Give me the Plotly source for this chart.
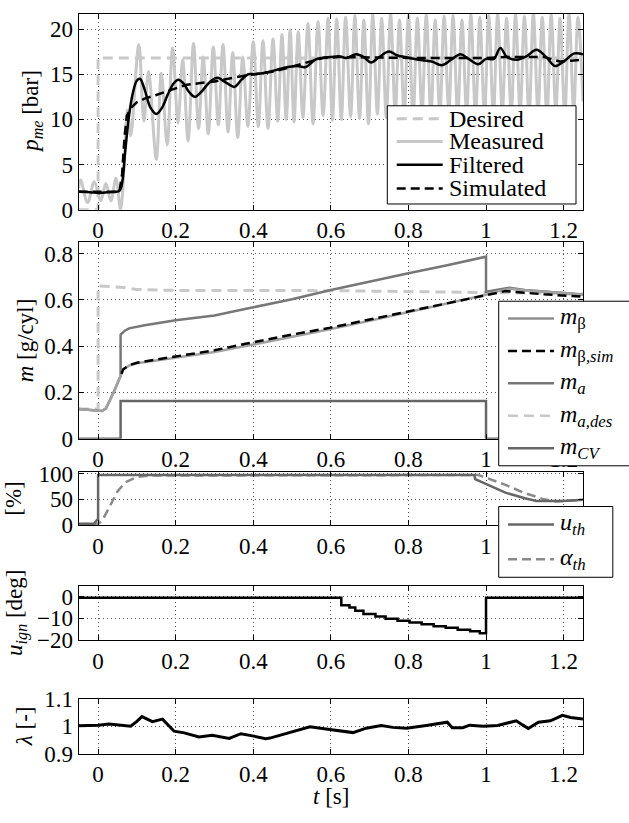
import plotly.graph_objects as go

# ---------------- data ----------------
x_ticks = [0, 0.2, 0.4, 0.6, 0.8, 1.0, 1.2]
x_ticklabels = ["0", "0.2", "0.4", "0.6", "0.8", "1", "1.2"]

# Panel 1: p_me [bar]
t_des = [-0.05, 0.0, 0.0, 1.25]
p_des = [0.0, 0.0, 16.8, 16.8]

t_meas = [-0.05, -0.045, -0.027, -0.01, 0.007, 0.02, 0.033, 0.046, 0.058, 0.076, 0.084,
          0.105, 0.118, 0.13, 0.15, 0.163, 0.178, 0.192, 0.206, 0.218, 0.232, 0.246, 0.259,
          0.271, 0.284, 0.297, 0.31, 0.322, 0.335, 0.347, 0.36, 0.373, 0.386, 0.4, 0.413,
          0.425, 0.438, 0.451, 0.463, 0.474, 0.485, 0.495, 0.505, 0.516, 0.528, 0.541, 0.554,
          0.567, 0.58, 0.593, 0.604, 0.615, 0.627, 0.638, 0.651, 0.662, 0.674, 0.685, 0.697,
          0.708, 0.72, 0.731, 0.743, 0.754, 0.766, 0.777, 0.789, 0.8, 0.812, 0.823, 0.835,
          0.846, 0.858, 0.869, 0.881, 0.892, 0.904, 0.915, 0.927, 0.938, 0.95, 0.961, 0.973,
          0.984, 0.996, 1.007, 1.019, 1.03, 1.042, 1.053, 1.065, 1.076, 1.088, 1.099, 1.111,
          1.122, 1.134, 1.145, 1.157, 1.168, 1.18, 1.191, 1.203, 1.214, 1.226, 1.237, 1.25]
p_meas = [2.4, 3.3, 0.8, 3.1, 1.0, 2.9, 1.0, 3.5, 0.0, 11.0, 8.2,
          18.3, 9.8, 15.3, 5.6, 15.1, 7.2, 17.9, 9.6, 16.6, 7.6, 18.4, 9.0,
          16.9, 8.4, 18.0, 9.4, 18.3, 8.6, 17.4, 8.0, 16.9, 9.2, 18.6, 9.2,
          18.7, 9.0, 18.9, 9.8, 19.4, 10.0, 19.9, 9.7, 19.7, 10.2, 20.6, 9.5,
          20.8, 10.4, 21.2, 9.9, 21.1, 10.0, 21.3, 10.3, 21.5, 10.1, 21.0, 9.5,
          21.6, 10.6, 21.2, 10.2, 21.7, 10.8, 21.0, 10.5, 21.5, 10.3, 21.2, 10.7,
          21.6, 10.4, 21.0, 10.6, 21.4, 10.9, 21.5, 10.5, 21.0, 10.7, 21.6, 10.4,
          21.3, 10.6, 21.5, 10.5, 21.7, 10.9, 21.2, 10.6, 21.6, 10.7, 21.4, 10.4,
          21.8, 10.8, 21.3, 10.3, 21.6, 10.9, 21.2, 10.5, 21.7, 11.0, 21.3, 12.0]

t_filt = [-0.05, -0.02, 0.0, 0.03, 0.055, 0.062, 0.07, 0.08, 0.09, 0.1, 0.108, 0.12, 0.135,
          0.15, 0.165, 0.18, 0.195, 0.207, 0.22, 0.235, 0.249, 0.265, 0.285, 0.3, 0.309,
          0.325, 0.34, 0.352, 0.37, 0.387, 0.405, 0.424, 0.445, 0.47, 0.49, 0.513, 0.535,
          0.56, 0.577, 0.6, 0.62, 0.64, 0.665, 0.685, 0.703, 0.725, 0.75, 0.77, 0.79,
          0.826, 0.86, 0.886, 0.91, 0.934, 0.955, 0.98, 1.0, 1.02, 1.037, 1.054, 1.08,
          1.105, 1.13, 1.155, 1.178, 1.2, 1.228, 1.25]
p_filt = [2.0, 1.95, 1.85, 1.95, 2.1, 3.0, 6.5, 10.5, 13.0, 14.3, 14.5, 13.3, 11.3,
          10.6, 11.3, 12.8, 14.0, 14.4, 14.0, 13.0, 12.5, 13.0, 14.0, 14.5, 14.6,
          14.2, 13.8, 13.6, 14.4, 15.0, 15.0, 15.1, 15.3, 15.6, 15.8, 15.9, 15.8,
          16.6, 16.8, 16.9, 17.0, 16.8, 17.2, 16.9, 16.3, 16.9, 17.5, 17.1, 16.9,
          16.6, 16.4, 16.0, 16.6, 17.2, 16.7, 16.1, 16.7, 16.7, 17.9, 16.9, 16.6,
          17.0, 17.7, 16.9, 15.9, 16.4, 17.3, 17.2]

t_sim = [-0.05, 0.055, 0.062, 0.068, 0.074, 0.085, 0.1, 0.12, 0.15, 0.19, 0.225, 0.26,
         0.3, 0.335, 0.385, 0.455, 0.49, 0.54, 0.58, 0.62, 0.8, 1.0, 1.05, 1.15, 1.19,
         1.22, 1.25]
p_sim = [2.0, 2.0, 4.0, 8.0, 10.4, 11.3, 11.9, 12.3, 12.7, 13.3, 13.8, 14.0,
         14.2, 14.5, 14.9, 15.3, 15.7, 16.3, 16.8, 16.9, 16.8, 16.8, 16.9, 16.9, 16.4,
         16.5, 16.6]

# Panel 2: m [g/cyl]
t_mbeta = [-0.05, 0.0, 0.01, 0.02, 0.04, 0.055, 0.06, 0.065, 0.08, 0.1, 0.15, 0.2, 0.3,
           0.4, 0.5, 0.6, 0.7, 0.8, 0.9, 1.0, 1.03, 1.06, 1.1, 1.2, 1.25]
m_beta = [0.128, 0.122, 0.12, 0.13, 0.2, 0.26, 0.28, 0.3, 0.316, 0.326, 0.338, 0.35, 0.375,
          0.407, 0.44, 0.474, 0.51, 0.547, 0.585, 0.622, 0.637, 0.648, 0.642, 0.628, 0.623]

t_mbsim = [0.06, 0.065, 0.08, 0.1, 0.15, 0.2, 0.3, 0.38, 0.5, 0.6, 0.7, 0.8, 0.9, 1.0,
           1.05, 1.15, 1.25]
m_bsim = [0.28, 0.3, 0.318, 0.328, 0.342, 0.356, 0.382, 0.41, 0.45, 0.48, 0.515, 0.55,
          0.585, 0.62, 0.638, 0.624, 0.614]

t_ma = [-0.05, 0.0, 0.01, 0.02, 0.04, 0.055, 0.058, 0.058, 0.07, 0.08, 0.12, 0.2, 0.3,
        0.4, 0.5, 0.6, 0.7, 0.8, 0.9, 1.0, 1.0, 1.03, 1.06, 1.1, 1.2, 1.25]
m_a = [0.128, 0.122, 0.12, 0.13, 0.2, 0.26, 0.27, 0.45, 0.468, 0.477, 0.49, 0.512, 0.533,
       0.568, 0.603, 0.643, 0.68, 0.715, 0.75, 0.787, 0.635, 0.645, 0.652, 0.643, 0.628, 0.623]

t_mades = [-0.05, 0.0, 0.0, 0.06, 0.1, 0.2, 0.6, 0.8, 1.0, 1.1, 1.25]
m_ades = [0.128, 0.128, 0.66, 0.655, 0.645, 0.641, 0.64, 0.636, 0.634, 0.63, 0.625]

t_mcv = [-0.05, 0.058, 0.058, 1.0, 1.0, 1.25]
m_cv = [0.0, 0.0, 0.163, 0.163, 0.0, 0.0]

# Panel 3: [%]
t_uth = [-0.05, -0.01, -0.003, 0.0, 0.0, 0.97, 0.972, 1.0, 1.05, 1.1, 1.13, 1.2, 1.25]
u_th = [3.0, 3.0, 10.0, 10.0, 97.0, 97.0, 89.0, 80.0, 63.0, 52.0, 47.0, 47.0, 49.0]

t_alpha = [-0.05, 0.0, 0.01, 0.03, 0.05, 0.07, 0.1, 0.13, 0.98, 1.0, 1.05, 1.1, 1.15,
           1.18, 1.22, 1.25]
alpha_th = [2.0, 3.0, 8.0, 35.0, 65.0, 83.0, 93.0, 96.0, 97.0, 92.0, 78.0, 62.0, 50.0,
            46.0, 47.0, 49.0]

# Panel 4: u_ign [deg]
t_ign = [-0.05, 0.627, 0.648, 0.663, 0.684, 0.715, 0.741, 0.772, 0.803, 0.834, 0.865,
         0.896, 0.927, 0.959, 0.984, 1.0, 1.25]
u_ign = [-0.5, -4.0, -5.0, -6.5, -8.0, -9.2, -10.2, -11.1, -11.9, -12.7, -13.6,
         -14.4, -15.3, -16.0, -16.9, -0.5, -0.5]

# Panel 5: lambda [-]
t_lam = [-0.05, 0.0, 0.028, 0.06, 0.084, 0.1, 0.113, 0.14, 0.166, 0.196, 0.222, 0.26, 0.294,
         0.338, 0.368, 0.398, 0.432, 0.443, 0.494, 0.546, 0.597, 0.657, 0.691, 0.73, 0.76,
         0.795, 0.846, 0.889, 0.9, 0.913, 0.94, 0.958, 0.993, 1.03, 1.05, 1.078, 1.094,
         1.109, 1.135, 1.166, 1.197, 1.218, 1.25]
lam = [1.002, 1.004, 1.008, 1.004, 1.0, 1.018, 1.035, 1.017, 1.026, 0.982, 0.976, 0.961, 0.967,
       0.956, 0.973, 0.965, 0.955, 0.957, 0.977, 0.998, 0.988, 0.977, 0.993, 1.003, 0.996,
       0.993, 1.003, 1.012, 1.015, 0.995, 0.995, 1.004, 1.0, 1.003, 1.01, 1.02, 1.005,
       0.992, 1.015, 1.02, 1.04, 1.032, 1.026]

# ---------------- styling ----------------
W, H = 629, 823
FONT = "Liberation Serif"
LIGHT = "#c8c8c8"
C_BETA = "#a2a2a2"
C_MA = "#777777"
C_CV = "#676767"
C_UTH = "#666666"
C_ALPHA = "#8a8a8a"
DASH = "9px,5px"

fig = go.Figure()


def add(x, y, ax, name, color, dash="solid", width=2.5, shape="linear"):
    sfx = "" if ax == 1 else str(ax)
    fig.add_trace(go.Scatter(
        x=x, y=y, xaxis="x" + sfx, yaxis="y" + sfx, mode="lines", name=name,
        line=dict(color=color, dash=dash, width=width, shape=shape), showlegend=False))


# panel 1
add(t_des, p_des, 1, "Desired", LIGHT, "10px,6px", 3)
add(t_meas, p_meas, 1, "Measured", LIGHT, "solid", 3, "spline")
add(t_filt, p_filt, 1, "Filtered", "black", "solid", 2.5, "spline")
add(t_sim, p_sim, 1, "Simulated", "black", DASH, 2.5)
# panel 2
add(t_mades, m_ades, 2, "m_a,des", LIGHT, "10px,6px", 3)
add(t_ma, m_a, 2, "m_a", C_MA, "solid", 2.5)
add(t_mbeta, m_beta, 2, "m_beta", C_BETA, "solid", 2.5)
add(t_mbsim, m_bsim, 2, "m_beta,sim", "black", DASH, 2.5)
add(t_mcv, m_cv, 2, "m_CV", C_CV, "solid", 2.5)
# panel 3
add(t_alpha, alpha_th, 3, "alpha_th", C_ALPHA, DASH, 2.5)
add(t_uth, u_th, 3, "u_th", C_UTH, "solid", 2.5)
# panel 4
add(t_ign, u_ign, 4, "u_ign", "black", "solid", 2.5, "hv")
# panel 5
add(t_lam, lam, 5, "lambda", "black", "solid", 3)

panels = [(1.7, 204.0), (237.3, 440.0), (474.3, 529.3), (591.7, 647.7), (708.3, 765.0)]
xdom = [78.7 / W, 583.0 / W]
yranges = [[0, 21.7], [0, 0.85], [0, 103], [-20, 5], [0.9, 1.1]]
yticks = [([0, 5, 10, 15, 20], ["0", "5", "10", "15", "20"]),
          ([0, 0.2, 0.4, 0.6, 0.8], ["0", "0.2", "0.4", "0.6", "0.8"]),
          ([0, 50, 100], ["0", "50", "100"]),
          ([-20, -10, 0], ["\u221220", "\u221210", "0"]),
          ([0.9, 1.0, 1.1], ["0.9", "1", "1.1"])]

TICKSIZE = 23
common = dict(showline=True, linecolor="black", linewidth=1, mirror="ticks", ticks="inside",
              ticklen=5, tickcolor="black", showgrid=True, gridcolor="#555555",
              griddash="1px,3px", gridwidth=1, zeroline=False,
              tickfont=dict(family=FONT, size=TICKSIZE, color="black"))

layout = dict(width=W, height=H, autosize=False, margin=dict(l=0, r=0, t=0, b=0),
              paper_bgcolor="white", plot_bgcolor="white", showlegend=False,
              font=dict(family=FONT, size=22, color="black"))
for i, ((top, bot), yr, (tv, tt)) in enumerate(zip(panels, yranges, yticks), start=1):
    sfx = "" if i == 1 else str(i)
    layout["xaxis" + sfx] = dict(common, domain=xdom, range=[-0.05, 1.25], tickvals=x_ticks,
                                 ticktext=x_ticklabels, anchor="y" + sfx)
    layout["yaxis" + sfx] = dict(common, domain=[1 - bot / H, 1 - top / H], range=yr,
                                 tickvals=tv, ticktext=tt, anchor="x" + sfx)
fig.update_layout(**layout)

# ---------------- legends (drawn as boxed keys) ----------------
LEGSIZE = 24


def legend_box(x0, x1, y0, y1):
    fig.add_shape(type="rect", xref="paper", yref="paper", x0=x0 / W, x1=x1 / W,
                  y0=1 - y1 / H, y1=1 - y0 / H, line=dict(color="black", width=1),
                  fillcolor="white", layer="above")


def legend_item(xl, yc, text, color, dash, width):
    fig.add_shape(type="line", xref="paper", yref="paper", x0=xl / W, x1=(xl + 46) / W,
                  y0=1 - yc / H, y1=1 - yc / H, line=dict(color=color, dash=dash, width=width),
                  layer="above")
    fig.add_annotation(text=text, x=(xl + 50) / W, y=1 - yc / H, xref="paper", yref="paper",
                       xanchor="left", yanchor="middle", showarrow=False,
                       font=dict(family=FONT, size=LEGSIZE, color="black"))


legend_box(387.3, 576.0, 96.7, 198.0)
for yc, txt, col, ds in [(110, "Desired", LIGHT, "10px,6px"), (133.5, "Measured", LIGHT, "solid"),
                         (157.5, "Filtered", "black", "solid"), (182, "Simulated", "black", DASH)]:
    legend_item(396.7, yc, txt, col, ds, 3 if col == LIGHT else 2.5)

legend_box(498.7, 650.0, 298.3, 468.0)
for yc, txt, col, ds in [(316, "<i>m</i><sub>β</sub>", "#8f8f8f", "solid"),
                         (349.5, "<i>m</i><sub>β<i>,sim</i></sub>", "black", DASH),
                         (383, "<i>m</i><sub><i>a</i></sub>", C_MA, "solid"),
                         (416.5, "<i>m</i><sub><i>a,des</i></sub>", LIGHT, "10px,6px"),
                         (450, "<i>m</i><sub><i>CV</i></sub>", C_CV, "solid")]:
    legend_item(508.0, yc, txt, col, ds, 2.5)

legend_box(498.7, 612.8, 510.0, 583.0)
for yc, txt, col, ds in [(528.5, "<i>u</i><sub><i>th</i></sub>", C_UTH, "solid"),
                         (564.5, "<i>α</i><sub><i>th</i></sub>", C_ALPHA, DASH)]:
    legend_item(508.0, yc, txt, col, ds, 2.5)

# ---------------- axis titles ----------------
ytitles = [("<i>p</i><sub><i>me</i></sub> [bar]", 32, 103),
           ("<i>m</i> [g/cyl]", 25, 338.6),
           ("[%]", 14, 502),
           ("<i>u</i><sub><i>ign</i></sub> [deg]", 17, 619.7),
           ("<i>λ</i> [-]", 24, 736.6)]
for txt, xp, yp in ytitles:
    fig.add_annotation(text=txt, x=xp / W, y=1 - yp / H, xref="paper", yref="paper",
                       textangle=-90, showarrow=False, xanchor="center", yanchor="middle",
                       font=dict(family=FONT, size=TICKSIZE, color="black"))
fig.add_annotation(text="<i>t</i> [s]", x=330.8 / W, y=1 - 809 / H, xref="paper", yref="paper",
                   showarrow=False, xanchor="center", yanchor="middle",
                   font=dict(family=FONT, size=TICKSIZE, color="black"))

fig.write_html("out.html")
